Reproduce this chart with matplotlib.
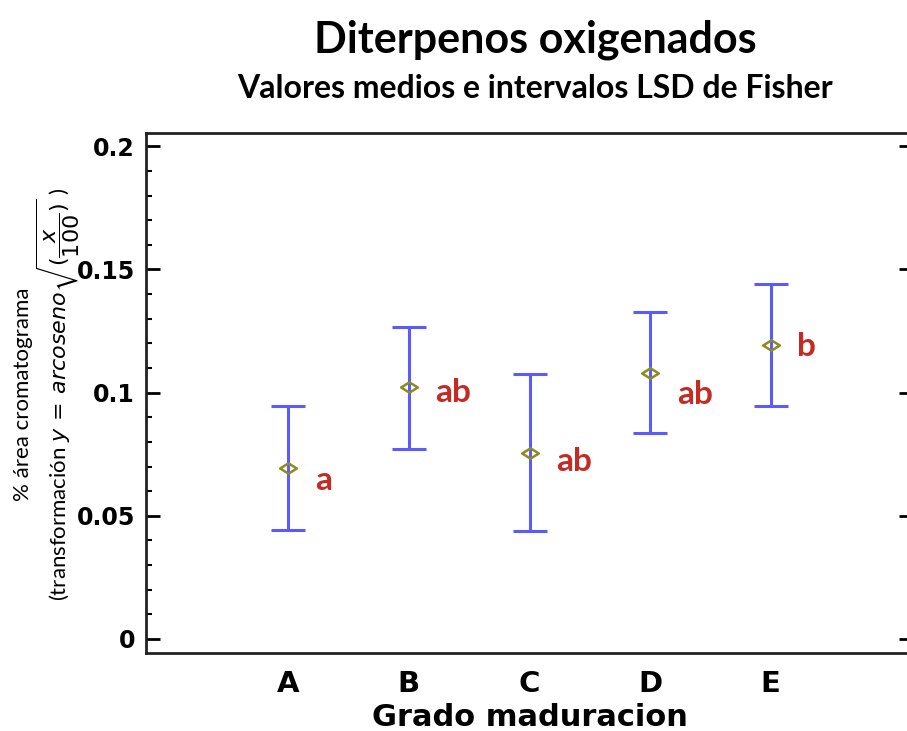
import numpy as np
import matplotlib.pyplot as plt
from matplotlib.path import Path
from matplotlib.ticker import MultipleLocator

# Medias e intervalos LSD de Fisher por grado de maduracion
grados = ['A', 'B', 'C', 'D', 'E']
medias = [0.0693, 0.1021, 0.0756, 0.1081, 0.1193]
lsd_inf = [0.0443, 0.0773, 0.0438, 0.0835, 0.0946]
lsd_sup = [0.0944, 0.1268, 0.1075, 0.1329, 0.1442]
grupos = ['a', 'ab', 'ab', 'ab', 'b']
# desplazamiento vertical de cada letra respecto a la media
desp_letra = [-0.005, -0.002, -0.0035, -0.009, -0.0005]

medias = np.array(medias)
err = np.array([medias - np.array(lsd_inf), np.array(lsd_sup) - medias])
x = np.arange(1, len(grados) + 1)

# rombo achatado para la media
rombo = Path([(-1, 0), (0, 0.62), (1, 0), (0, -0.62), (-1, 0)],
             [Path.MOVETO, Path.LINETO, Path.LINETO, Path.LINETO, Path.CLOSEPOLY])

fig = plt.figure(figsize=(9.07, 7.31), dpi=100)
ax = fig.add_axes([0.161, 0.1067, 0.8456, 0.7113])

ax.errorbar(x, medias, yerr=err, fmt='none', ecolor='#5a5aff', elinewidth=2.2,
            capsize=12, capthick=2.2, zorder=2)
ax.plot(x, medias, linestyle='none', marker=rombo, markersize=12,
        markerfacecolor='none', markeredgecolor='#8c8c1e', markeredgewidth=1.8, zorder=3)

for xi, m, g, d in zip(x, medias, grupos, desp_letra):
    ax.text(xi + 0.22, m + d, g, color='#c42b25', fontsize=24, fontweight='bold',
            family='Lato', ha='left', va='center')

ax.set_xlim(-0.18, 6.18)
ax.set_ylim(-0.0057, 0.2054)
ax.set_xticks(x)
ax.set_xticklabels(grados)
ax.set_yticks([0, 0.05, 0.1, 0.15, 0.2])
ax.set_yticklabels(['0', '0.05', '0.1', '0.15', '0.2'])
ax.yaxis.set_minor_locator(MultipleLocator(0.01))

ax.tick_params(axis='x', length=0, pad=12, labelsize=21)
ax.tick_params(axis='y', which='major', direction='in', length=10, width=2,
               labelsize=17, pad=8, right=True)
ax.tick_params(axis='y', which='minor', direction='in', length=4, width=1.5, right=True)
for lab in ax.get_xticklabels() + ax.get_yticklabels():
    lab.set_fontweight('bold')
    lab.set_family('DejaVu Sans')
for s in ax.spines.values():
    s.set_linewidth(2)
    s.set_color('#222222')

ax.set_xlabel('Grado maduracion', fontsize=22, fontweight='bold',
              family='DejaVu Sans', labelpad=4)

fig.text(0.025, 0.46, '% área cromatograma', rotation=90, fontsize=16,
         family='Lato', ha='center', va='center')
fig.text(0.064, 0.46, r'(transformación $y\,=\,arcoseno\sqrt{(\dfrac{x}{100})}$ )',
         rotation=90, fontsize=16, family='Lato', ha='center', va='center')

fig.text(0.59, 0.946, 'Diterpenos oxigenados', fontsize=31, fontweight='bold',
         family='Lato', ha='center', va='center')
fig.text(0.59, 0.879, 'Valores medios e intervalos LSD de Fisher', fontsize=23,
         fontweight='bold', family='Lato', ha='center', va='center')

fig.savefig('out.png', dpi=100)
